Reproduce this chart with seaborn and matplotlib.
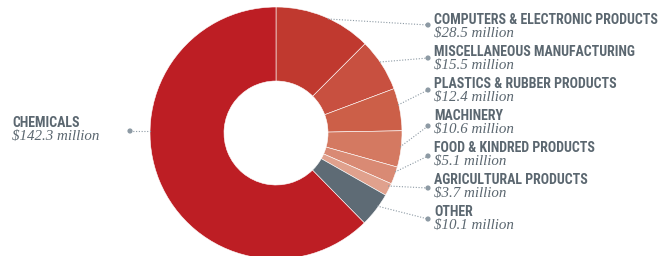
import matplotlib
matplotlib.use('Agg')
import matplotlib.pyplot as plt
from matplotlib import font_manager
import seaborn as sns

# Export values by category, clockwise from 12 o'clock
categories = ['COMPUTERS & ELECTRONIC PRODUCTS', 'MISCELLANEOUS MANUFACTURING',
              'PLASTICS & RUBBER PRODUCTS', 'MACHINERY', 'FOOD & KINDRED PRODUCTS',
              'AGRICULTURAL PRODUCTS', 'OTHER', 'CHEMICALS']
values = [28.5, 15.5, 12.4, 10.6, 5.1, 3.7, 10.1, 142.3]
value_labels = ['$28.5 million', '$15.5 million', '$12.4 million', '$10.6 million',
                '$5.1 million', '$3.7 million', '$10.1 million', '$142.3 million']
colors = ['#c0392f', '#c85040', '#cc5f48', '#d47961', '#d98a74', '#e0a18d', '#5e6b75', '#bd1e24']

sns.set_theme(style='white')

# pick a narrow-ish bold face if one is installed
installed = {f.name for f in font_manager.fontManager.ttflist}
title_font = 'DejaVu Sans'
for name in ['Roboto Condensed', 'Liberation Sans Narrow', 'Open Sans Condensed', 'Roboto', 'Liberation Sans']:
    if name in installed:
        title_font = name
        break
plt.rcParams['font.family'] = [title_font, 'DejaVu Sans']

W, H = 662, 256
fig = plt.figure(figsize=(W / 100, H / 100), dpi=100)
ax = fig.add_axes([0, 0, 1, 1])

cx, cy, r_out, r_in = 276, H - 133, 126, 52
ax.pie(values, colors=colors, startangle=90, counterclock=False,
       center=(cx, cy), radius=r_out, frame=True,
       wedgeprops=dict(width=r_out - r_in, edgecolor='white', linewidth=0.4))
ax.set_xlim(0, W)
ax.set_ylim(0, H)
ax.set_aspect('equal')
ax.axis('off')

grey = '#5b6770'
dot_c = '#8d9aa4'

# size the bold labels so the longest one fits in the right margin
renderer = fig.canvas.get_renderer()
probe = ax.text(0, 0, categories[0], fontsize=10, fontweight='bold')
w = probe.get_window_extent(renderer).width
probe.remove()
title_size = 10 * 223 / w

# label layout in pixel coords (top-left origin): leader start, dot, text row
starts = [(328, 19), (380, 62), (398, 105), (400, 147), (395, 172), (388, 186), (377, 206)]
dots = [(428, 25), (428, 58), (428, 90), (428, 126), (428, 156), (428, 188), (428, 219)]
title_y = [20, 52, 84, 116, 148, 180, 212]

for i in range(7):
    (sx, sy), (dx, dy) = starts[i], dots[i]
    ax.plot([sx, dx], [H - sy, H - dy], ls=(0, (1, 1.5)), lw=0.8, color=dot_c)
    ax.text(434, H - title_y[i], categories[i], fontsize=title_size, fontweight='bold',
            color=grey, va='center', ha='left')
    ax.text(434, H - title_y[i] - 13.5, value_labels[i], fontsize=10.8, style='italic',
            family='Liberation Serif', color=grey, va='center', ha='left')

# chemicals label on the left
ax.plot([130, 152], [H - 131, H - 131], ls=(0, (1, 1.5)), lw=0.8, color=dot_c)
ax.text(12, H - 123, categories[7], fontsize=title_size, fontweight='bold',
        color=grey, va='center', ha='left')
ax.text(12, H - 136.5, value_labels[7], fontsize=10.8, style='italic',
        family='Liberation Serif', color=grey, va='center', ha='left')

dot_x = [d[0] for d in dots] + [130]
dot_y = [H - d[1] for d in dots] + [H - 131]
sns.scatterplot(x=dot_x, y=dot_y, color=dot_c, s=14, edgecolor='none', ax=ax, legend=False)
ax.set_xlim(0, W)
ax.set_ylim(0, H)
ax.axis('off')

fig.savefig('out.png', dpi=100)
